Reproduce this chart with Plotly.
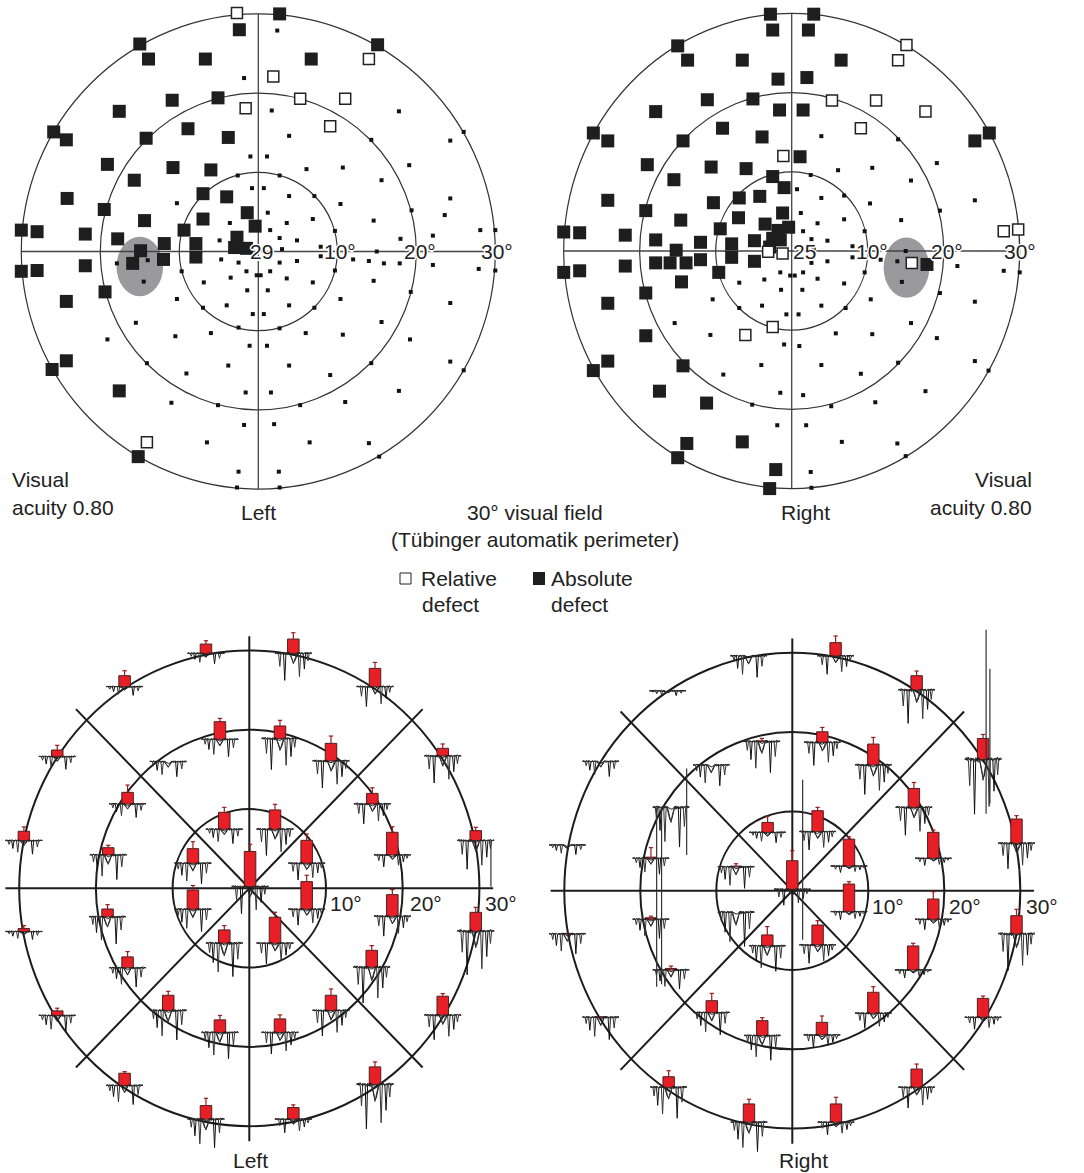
import numpy as np
import plotly.graph_objects as go

W, H = 1084, 1173
FONT = "Liberation Sans, Arial, Helvetica, sans-serif"
INK = "#222222"

# ---------------------------------------------------------------------------
# 30 degree static perimetry, test locations in degrees (x, y)
# ---------------------------------------------------------------------------
ABS_LEFT = [
    (2.7, 30.0), (-2.4, 28.0), (-15.0, 26.2), (15.1, 26.1), (-13.9, 24.3), (-6.7, 24.3),
    (6.7, 24.3), (-10.9, 19.1), (-5.1, 19.4), (-17.6, 17.7), (-25.9, 15.1), (-24.3, 14.1),
    (-8.9, 15.5), (-3.8, 14.4), (-14.2, 14.3), (-19.1, 11.0), (-10.8, 10.6), (-6.0, 10.3),
    (-15.7, 9.0), (-24.2, 6.7), (-7.0, 7.3), (-4.0, 6.9), (-19.5, 5.3), (-1.4, 4.9),
    (-7.0, 4.1), (-0.4, 3.2), (-30.0, 2.7), (-28.0, 2.5), (-21.9, 2.2), (-14.4, 3.9),
    (-9.4, 2.7), (-17.8, 1.6), (-11.9, 1.0), (-7.9, 1.0), (-2.7, 1.8), (-3.0, 0.5),
    (-1.5, 0.4), (-14.9, 0.1), (-15.9, -1.5), (-12.0, -1.0), (-7.9, -0.7), (-30.0, -2.5),
    (-28.0, -2.4), (-21.9, -1.8), (-19.4, -5.1), (-24.3, -6.3), (-24.3, -13.8),
    (-26.1, -14.9), (-17.6, -17.6), (-15.2, -25.9),
]
REL_LEFT = [
    (-2.7, 30.1), (14.0, 24.3), (1.9, 22.1), (5.3, 19.3), (11.0, 19.3), (-1.6, 18.1),
    (9.1, 15.8), (-14.1, -24.1),
]
DOT_LEFT = [
    (2.4, 27.9), (-1.8, 21.9), (1.7, 17.8), (17.8, 17.7), (26.0, 15.1), (3.9, 14.6),
    (14.3, 14.1), (24.3, 14.0), (-1.0, 12.0), (1.1, 12.0), (6.1, 10.4), (10.7, 10.6),
    (19.1, 10.9), (-2.6, 9.6), (2.7, 9.6), (15.6, 9.0), (-0.8, 8.0), (0.7, 8.0), (3.9, 7.0),
    (7.1, 7.0), (-10.3, 6.1), (10.4, 6.0), (24.3, 6.7), (19.4, 5.2), (23.6, 4.6), (1.2, 4.9),
    (6.9, 4.1), (3.6, 3.6), (-3.6, 3.6), (14.6, 3.9), (9.7, 2.6), (1.5, 2.7), (28.1, 2.7),
    (30.0, 2.7), (22.1, 2.0), (18.0, 1.6), (-4.9, 1.4), (2.7, 1.7), (4.9, 1.4), (7.9, 0.6),
    (3.0, 0.3), (15.0, 0.0), (7.9, -0.6), (12.0, -1.0), (14.0, -1.2), (15.9, -1.5),
    (17.9, -1.5), (22.1, -1.7), (27.9, -2.2), (30.0, -2.4), (2.7, -1.4), (4.9, -1.2),
    (-4.7, -1.0), (-2.5, -1.4), (-14.0, -1.1), (-17.9, -1.5), (-14.5, -3.8), (-9.7, -2.5),
    (9.7, -2.4), (-1.5, -2.5), (1.5, -2.5), (-0.2, -3.0), (0.3, -3.0), (-3.5, -3.3),
    (3.6, -3.4), (-6.9, -3.9), (6.9, -3.9), (-1.4, -4.9), (1.2, -4.9), (14.6, -3.7),
    (-10.3, -6.0), (10.4, -6.0), (19.3, -5.1), (24.3, -6.5), (-4.0, -6.8), (3.9, -6.8),
    (-7.0, -7.1), (7.1, -7.1), (-0.7, -7.9), (0.7, -7.9), (-2.5, -9.6), (2.7, -9.7),
    (-15.5, -9.0), (15.6, -8.9), (-6.0, -10.3), (6.0, -10.3), (-10.5, -10.7), (10.7, -10.5),
    (-19.1, -11.1), (19.2, -11.1), (-1.1, -11.9), (1.1, -11.9), (-14.1, -14.1), (14.3, -14.1),
    (-3.8, -14.4), (3.9, -14.4), (24.3, -13.9), (26.0, -15.0), (-9.1, -15.4), (9.1, -15.6),
    (17.8, -17.6), (-5.1, -19.4), (5.3, -19.4), (-11.0, -19.1), (11.0, -19.0), (-1.6, -17.8),
    (1.6, -17.8), (-1.8, -21.9), (2.0, -21.8), (-6.5, -24.1), (6.5, -24.1), (14.0, -24.2),
    (15.3, -25.9), (-2.5, -27.8), (2.6, -27.8), (-2.7, -29.8), (2.7, -29.8),
]

ABS_RIGHT = [
    (-2.8, 29.9), (2.9, 29.9), (-2.5, 27.9), (2.2, 27.9), (-15.0, 25.9), (-13.7, 24.1),
    (-6.5, 24.1), (6.5, 24.1), (-1.8, 21.7), (2.0, 21.9), (-11.1, 19.1), (-5.1, 19.2),
    (-1.6, 17.8), (1.5, 17.8), (-17.9, 17.6), (-26.1, 14.9), (-24.2, 13.9), (-9.1, 15.5),
    (-3.9, 14.4), (-14.3, 13.9), (26.0, 14.9), (24.1, 13.9), (1.1, 11.9), (-19.0, 10.9),
    (-10.6, 10.6), (-6.0, 10.4), (-15.5, 9.0), (-2.5, 9.4), (-1.0, 8.0), (-24.2, 6.4),
    (-10.3, 6.1), (-6.9, 6.7), (-4.2, 6.9), (-19.2, 5.1), (-1.2, 4.8), (-7.0, 4.2),
    (-14.6, 3.9), (-3.5, 3.4), (-1.8, 2.6), (-0.4, 3.0), (-9.4, 2.8), (-30.0, 2.4),
    (-27.9, 2.3), (-21.9, 2.0), (-17.9, 1.4), (-12.0, 1.1), (-7.9, 0.9), (-4.9, 1.3),
    (-2.5, 1.6), (-2.9, 0.5), (-1.5, 1.4), (-15.2, 0.1), (-17.9, -1.5), (-16.0, -1.5),
    (-13.9, -1.5), (-12.0, -1.1), (-7.9, -0.8), (-4.9, -1.3), (-30.0, -2.7), (-27.9, -2.5),
    (-21.9, -1.9), (-9.6, -2.7), (-14.5, -3.9), (-19.2, -5.3), (-24.2, -6.6), (-19.2, -10.7),
    (-24.2, -13.9), (-26.1, -15.1), (-14.3, -14.5), (-17.4, -17.7), (-11.2, -19.2),
    (-13.8, -24.3), (-6.5, -24.1), (-15.0, -26.1), (-2.1, -27.6), (-2.9, -30.0), (17.8, -1.7),
]
REL_RIGHT = [
    (15.1, 26.0), (14.0, 24.1), (5.3, 19.0), (11.1, 19.0), (17.6, 17.6), (9.1, 15.5),
    (-1.1, 12.0), (27.9, 2.5), (29.8, 2.7), (15.8, -1.5), (-3.1, -0.1), (-1.2, -0.3),
    (-2.5, -9.6), (-6.1, -10.6),
]
DOT_RIGHT = [
    (3.9, 14.5), (14.0, 14.1), (19.1, 11.1), (6.1, 10.2), (10.6, 10.5), (15.7, 8.9),
    (2.5, 9.6), (0.7, 7.8), (3.9, 6.7), (6.9, 7.0), (10.3, 6.0), (24.1, 6.4), (19.5, 5.1),
    (1.2, 4.8), (6.9, 4.0), (3.4, 3.5), (14.4, 3.9), (9.6, 2.5), (1.5, 2.5), (2.6, 1.5),
    (4.7, 1.3), (8.0, 0.6), (2.9, 0.2), (15.0, 0.0), (8.0, -0.8), (11.7, -1.1), (13.9, -1.3),
    (21.8, -1.9), (27.9, -2.5), (30.0, -2.7), (2.6, -1.5), (4.7, -1.3), (9.6, -2.7),
    (-1.5, -2.7), (1.5, -2.7), (-0.2, -3.1), (0.4, -3.1), (-3.6, -3.6), (3.4, -3.5),
    (-6.9, -4.0), (6.9, -4.1), (14.5, -3.9), (-1.4, -4.9), (1.4, -4.9), (-10.4, -6.1),
    (10.4, -6.1), (19.5, -5.3), (24.1, -6.4), (-3.9, -6.9), (3.9, -6.9), (-6.9, -7.2),
    (7.1, -7.2), (-0.7, -8.0), (0.9, -8.0), (-15.4, -9.1), (15.7, -9.1), (5.8, -10.4),
    (10.6, -10.5), (-10.7, -10.6), (19.1, -11.0), (-1.0, -11.8), (1.0, -12.0), (-4.0, -14.4),
    (3.9, -14.4), (14.0, -14.1), (24.1, -13.9), (25.9, -15.1), (-9.0, -15.6), (9.1, -15.5),
    (17.6, -17.7), (-1.5, -17.9), (1.5, -18.2), (-5.2, -19.4), (5.2, -19.6), (11.0, -19.1),
    (-1.9, -22.0), (1.9, -22.0), (6.6, -24.1), (13.9, -24.3), (15.0, -25.9), (2.5, -27.9),
    (2.6, -29.9),
]

# blind spot: centre x, centre y, half width, half height (degrees)
BLIND_LEFT = (-15.0, -1.9, 2.95, 3.75)
BLIND_RIGHT = (15.1, -2.1, 3.0, 3.8)
FOVEA_LEFT = "29"
FOVEA_RIGHT = "25"

# ---------------------------------------------------------------------------
# Multifocal ERG: (x, y, amplitude, sd, trace depth) in degrees of the field
# ---------------------------------------------------------------------------
MF_LEFT = [
    (0.1, 0.2, 4.45, 0.9, 3.4),
    (-3.26, 7.44, 2.14, 0.63, 1.8), (3.35, 7.44, 2.44, 0.71, 3.3),
    (-7.35, 3.15, 1.85, 0.88, 2.6), (7.48, 3.15, 2.9, 0.8, 2.1),
    (-7.35, -2.65, 2.44, 0.55, 2.8), (7.48, -2.65, 3.49, 0.8, 2.0),
    (-3.26, -6.93, 1.68, 0.55, 4.2), (3.35, -6.93, 3.28, 0.63, 2.6),
    (-3.83, 18.78, 2.23, 0.42, 2.2), (4.0, 18.87, 1.6, 0.71, 3.9),
    (-10.57, 15.97, 0.0, 0.0, 1.9), (10.65, 16.05, 2.23, 0.92, 3.4),
    (-15.87, 10.63, 1.47, 0.92, 1.7), (16.04, 10.63, 1.34, 0.71, 2.5),
    (-18.39, 4.2, 0.92, 0.3, 3.1), (18.65, 4.2, 2.86, 0.71, 1.5),
    (-18.48, -3.61, 1.0, 0.55, 3.4), (18.65, -3.53, 2.73, 0.63, 2.5),
    (-15.87, -10.04, 1.39, 0.67, 2.4), (15.96, -9.96, 2.14, 0.59, 4.5),
    (-10.57, -15.42, 1.93, 0.5, 3.7), (10.65, -15.42, 1.93, 0.8, 3.2),
    (-3.83, -18.19, 1.6, 0.55, 3.3), (4.0, -18.19, 1.72, 0.5, 2.7),
    (-5.65, 29.62, 1.18, 0.42, 1.3), (5.74, 29.62, 1.81, 0.8, 3.4),
    (-16.26, 25.42, 1.39, 0.63, 1.1), (16.39, 25.42, 2.31, 0.76, 2.5),
    (-25.04, 16.6, 0.84, 0.59, 1.6), (25.22, 16.68, 0.97, 0.55, 3.4),
    (-29.39, 6.01, 1.18, 0.55, 1.7), (29.52, 6.01, 1.26, 0.42, 3.6),
    (-29.39, -5.46, 0.38, 0.38, 1.0), (29.52, -5.42, 2.39, 0.63, 5.5),
    (-25.04, -16.05, 0.59, 0.34, 2.0), (25.22, -16.0, 2.39, 0.34, 3.1),
    (-16.26, -24.87, 1.55, 0.2, 2.4), (16.39, -24.75, 2.23, 0.63, 5.6),
    (-5.65, -29.12, 1.72, 0.92, 3.6), (5.74, -29.12, 1.47, 0.34, 1.7),
]
MF_RIGHT = [
    (0.0, 0.17, 3.61, 1.26, 2.0),
    (-3.25, 7.35, 1.26, 0.8, 1.3), (3.33, 7.44, 2.65, 0.42, 2.3),
    (-7.4, 3.0, 0.1, 0.3, 2.7), (7.46, 3.1, 3.4, 0.3, 0.8),
    (-7.4, -2.73, 0.0, 0.0, 4.3), (7.46, -2.65, 3.49, 0.3, 1.0),
    (-3.29, -6.97, 1.39, 1.05, 3.2), (3.33, -6.85, 2.52, 0.55, 2.3),
    (-4.0, 18.8, 0.1, 0.3, 3.9), (3.95, 18.7, 1.34, 0.55, 2.9),
    (-10.66, 15.84, 0.0, 0.0, 2.6), (10.66, 15.84, 2.65, 0.84, 3.7),
    (-15.96, 10.5, 0.0, 0.0, 5.0), (16.0, 10.5, 2.39, 0.76, 3.5),
    (-18.6, 4.08, 0.15, 1.2, 2.0), (18.55, 4.08, 3.28, 0.3, 0.9),
    (-18.6, -3.61, 0.2, 0.2, 2.4), (18.55, -3.61, 2.56, 0.92, 1.3),
    (-15.96, -10.0, 0.2, 0.3, 2.4), (15.9, -10.0, 3.03, 0.34, 1.0),
    (-10.6, -15.38, 1.51, 0.92, 2.8), (10.66, -15.46, 2.65, 0.71, 1.9),
    (-3.95, -18.28, 1.89, 0.38, 3.1), (3.9, -18.2, 1.6, 0.8, 1.6),
    (-5.75, 29.6, 0.0, 0.0, 2.7), (5.7, 29.6, 1.68, 0.84, 2.3),
    (-16.4, 25.2, 0.0, 0.0, 0.6), (16.36, 25.3, 1.81, 0.59, 4.2),
    (-25.2, 16.3, 0.0, 0.0, 1.9), (25.1, 16.55, 2.65, 0.5, 6.9),
    (-29.6, 5.76, 0.0, 0.0, 1.2), (29.5, 5.97, 3.07, 0.42, 3.2),
    (-29.6, -5.46, 0.08, 0.0, 2.5), (29.5, -5.46, 2.31, 0.8, 4.6),
    (-25.2, -15.97, 0.08, 0.0, 2.8), (25.1, -15.97, 2.39, 0.3, 1.5),
    (-16.27, -24.8, 1.34, 0.76, 3.9), (16.36, -24.8, 2.31, 0.63, 2.6),
    (-5.7, -29.2, 2.31, 0.59, 3.7), (5.75, -29.2, 2.31, 0.84, 1.6),
]
# isolated artefact spikes: x, top, bottom
SPIKES_LEFT = [(31.5, 6.0, 0.2)]
SPIKES_RIGHT = [
    (25.5, 32.9, 9.7), (26.0, 28.0, 11.0), (1.36, 14.0, -6.2),
    (-17.85, 10.5, -12.1), (-17.2, 10.5, -11.8), (-13.9, 15.4, 4.5),
]

# normalised response templates (one sample per step across the trace window)
WAVE_A = [0.00, 0.03, -0.02, 0.04, 0.00, -0.03, 0.02, 0.00, -1.00, 0.02, -0.03,
          0.04, 0.00, -0.12, -0.26, -0.34, -0.30, -0.16, -0.04, 0.03, 0.00, -0.02,
          0.03, 0.00, -0.58, 0.02, 0.00, 0.04, -0.02, 0.03, 0.00]
WAVE_B = [0.02, 0.00, 0.04, -0.02, -0.48, 0.03, 0.00, 0.02, -0.04, 0.03, 0.00,
          -0.05, 0.02, -0.08, -0.20, -0.38, -0.26, -0.10, 0.02, 0.00, -0.86, 0.03,
          0.00, -0.03, 0.02, 0.00, 0.03, -0.28, 0.02, 0.00, 0.03]
WAVE_C = [0.00, 0.06, -0.04, 0.08, -0.02, 0.05, -0.06, 0.07, 0.00, -0.05, 0.06,
          -0.03, 0.05, -0.10, -0.18, -0.22, -0.14, -0.06, 0.05, -0.04, 0.07, -0.02,
          0.05, -0.06, 0.04, 0.08, -0.03, 0.06, -0.05, 0.04, 0.00]
TRACE_HALF = 2.4
BAR_WIDTH = 1.5

# ---------------------------------------------------------------------------
# panel geometry: centre pixel, pixels per degree, pixel box
# ---------------------------------------------------------------------------
PANELS = [
    dict(n=1, cx=258.3, cy=251.5, sx=7.9, sy=7.92, box=(0, 535, 0, 500)),
    dict(n=2, cx=791.7, cy=251.0, sx=7.6, sy=7.92, box=(540, 1084, 0, 500)),
    dict(n=3, cx=249.3, cy=888.3, sx=7.67, sy=7.93, box=(0, 540, 620, 1173)),
    dict(n=4, cx=792.3, cy=890.7, sx=7.6, sy=7.93, box=(540, 1084, 620, 1173)),
]

fig = go.Figure()
layout = dict(width=W, height=H, margin=dict(l=0, r=0, t=0, b=0),
              paper_bgcolor="white", plot_bgcolor="white", showlegend=False,
              barmode="overlay", font=dict(family=FONT, color=INK))
for p in PANELS:
    x0, x1, y0, y1 = p["box"]
    sfx = "" if p["n"] == 1 else str(p["n"])
    layout["xaxis" + sfx] = dict(domain=[x0 / W, x1 / W],
                                 range=[(x0 - p["cx"]) / p["sx"], (x1 - p["cx"]) / p["sx"]],
                                 visible=False, fixedrange=True)
    layout["yaxis" + sfx] = dict(domain=[1 - y1 / H, 1 - y0 / H],
                                 range=[(p["cy"] - y1) / p["sy"], (p["cy"] - y0) / p["sy"]],
                                 visible=False, fixedrange=True)
fig.update_layout(**layout)

shapes, annotations = [], []


def refs(n):
    return ("x", "y") if n == 1 else (f"x{n}", f"y{n}")


def circle(n, r, width, color):
    xr, yr = refs(n)
    return dict(type="circle", xref=xr, yref=yr, x0=-r, x1=r, y0=-r, y1=r,
                line=dict(color=color, width=width), layer="below")


def seg(n, xa, ya, xb, yb, width, color):
    xr, yr = refs(n)
    return dict(type="line", xref=xr, yref=yr, x0=xa, y0=ya, x1=xb, y1=yb,
                line=dict(color=color, width=width), layer="below")


HALO = ("1.5px 0 0 #fff, -1.5px 0 0 #fff, 0 1.5px 0 #fff, 0 -1.5px 0 #fff, "
        "1px 1px 0 #fff, -1px -1px 0 #fff, 1px -1px 0 #fff, -1px 1px 0 #fff")


# ---------------- perimetry panels ----------------
def perimetry(n, absolute, relative, dots, blind, fovea, fovea_x, deg_x):
    xr, yr = refs(n)
    bx, by, bw, bh = blind
    shapes.append(dict(type="circle", xref=xr, yref=yr, x0=bx - bw, x1=bx + bw,
                       y0=by - bh, y1=by + bh, fillcolor="#9a9a9c",
                       line=dict(width=0), layer="below"))
    for r in (10, 20, 30):
        shapes.append(circle(n, r, 1.2, "#333333"))
    shapes.append(seg(n, -30, 0, 30, 0, 1.3, "#444444"))
    shapes.append(seg(n, 0, -30, 0, 30, 1.3, "#444444"))
    fig.add_trace(go.Scatter(x=[d[0] for d in dots], y=[d[1] for d in dots], mode="markers",
                             marker=dict(symbol="square", size=4, color="#111111"),
                             xaxis=xr, yaxis=yr, hoverinfo="skip"))
    fig.add_trace(go.Scatter(x=[d[0] for d in absolute], y=[d[1] for d in absolute],
                             mode="markers",
                             marker=dict(symbol="square", size=13, color="#1e1e1e",
                                         line=dict(width=0)),
                             xaxis=xr, yaxis=yr, hoverinfo="skip"))
    fig.add_trace(go.Scatter(x=[d[0] for d in relative], y=[d[1] for d in relative],
                             mode="markers",
                             marker=dict(symbol="square", size=11, color="white",
                                         line=dict(width=1.5, color="#222222")),
                             xaxis=xr, yaxis=yr, hoverinfo="skip"))
    annotations.append(dict(text=fovea, x=fovea_x, y=0, xref=xr, yref=yr, showarrow=False,
                            font=dict(size=21, family=FONT, color=INK, shadow=HALO)))
    for val, xpos in zip(("10°", "20°", "30°"), deg_x):
        annotations.append(dict(text=val, x=xpos, y=0, xref=xr, yref=yr, showarrow=False,
                                font=dict(size=21, family=FONT, color=INK, shadow=HALO)))


perimetry(1, ABS_LEFT, REL_LEFT, DOT_LEFT, BLIND_LEFT, FOVEA_LEFT, 0.35, (10.4, 20.5, 30.2))
perimetry(2, ABS_RIGHT, REL_RIGHT, DOT_RIGHT, BLIND_RIGHT, FOVEA_RIGHT, 1.7, (10.5, 20.4, 30.1))


# ---------------- multifocal ERG panels ----------------
def mferg(n, locs, spikes):
    xr, yr = refs(n)
    for r in (10, 20, 30):
        shapes.append(circle(n, r, 2, "#1c1c1c"))
    shapes.append(seg(n, -31.8, 0, 31.8, 0, 2, "#1c1c1c"))
    shapes.append(seg(n, 0, -31.9, 0, 31.8, 2, "#1c1c1c"))
    shapes.append(seg(n, -22.6, -22.6, 22.6, 22.6, 2, "#1c1c1c"))
    shapes.append(seg(n, -22.6, 22.6, 22.6, -22.6, 2, "#1c1c1c"))

    # bars
    bars = [l for l in locs if l[2] > 0]
    fig.add_trace(go.Bar(x=[b[0] for b in bars], y=[b[2] for b in bars],
                         base=[b[1] for b in bars], width=BAR_WIDTH,
                         marker=dict(color="#e81f27", line=dict(color="#4a2020", width=1)),
                         xaxis=xr, yaxis=yr, hoverinfo="skip"))

    # response traces (three overlaid sweeps per location)
    for wave, col, gain in ((WAVE_C, "#1a1a1a", 1.0), (WAVE_A, "#111111", 1.0),
                            (WAVE_B, "#333333", 1.0)):
        xs, ys = [], []
        for i, (x, y, amp, sd, depth) in enumerate(locs):
            w = wave if i % 2 == 0 else wave[::-1]
            scale = depth * gain if wave is not WAVE_C else 1.0
            xs += list(x + np.linspace(-TRACE_HALF, TRACE_HALF, len(w))) + [None]
            ys += list(y + scale * np.array(w)) + [None]
        fig.add_trace(go.Scatter(x=xs, y=ys, mode="lines",
                                 line=dict(color=col, width=1),
                                 xaxis=xr, yaxis=yr, hoverinfo="skip"))

    # standard deviation whiskers
    wx, wy = [], []
    for (x, y, amp, sd, depth) in bars:
        if sd <= 0:
            continue
        top = y + amp + sd
        wx += [x, x, None, x - 0.28, x + 0.28, None]
        wy += [y + amp, top, None, top, top, None]
    fig.add_trace(go.Scatter(x=wx, y=wy, mode="lines", line=dict(color="#9a1b1b", width=1.2),
                             xaxis=xr, yaxis=yr, hoverinfo="skip"))

    # isolated artefacts
    sx_, sy_ = [], []
    for (x, a, b) in spikes:
        sx_ += [x, x, None]
        sy_ += [a, b, None]
    fig.add_trace(go.Scatter(x=sx_, y=sy_, mode="lines", line=dict(color="#333333", width=1.2),
                             xaxis=xr, yaxis=yr, hoverinfo="skip"))


mferg(3, MF_LEFT, SPIKES_LEFT)
mferg(4, MF_RIGHT, SPIKES_RIGHT)


# ---------------- text ----------------
def label(text, x, y, size=21, anchor="center"):
    annotations.append(dict(text=text, x=x / W, y=1 - y / H, xref="paper", yref="paper",
                            showarrow=False, xanchor=anchor, yanchor="middle",
                            font=dict(size=size, family=FONT, color=INK)))


label("Visual", 10, 480, anchor="left")
label("acuity 0.80", 10, 507, anchor="left")
label("Visual", 1034, 480, anchor="right")
label("acuity 0.80", 1034, 507, anchor="right")
label("Left", 258, 512)
label("Right", 805, 512)
label("30° visual field", 535, 512)
label("(Tübinger automatik perimeter)", 535, 540)
label("Relative", 419, 578, anchor="left")
label("defect", 450, 604)
label("Absolute", 549, 578, anchor="left")
label("defect", 579, 604)
label("Left", 250, 1160)
label("Right", 803, 1160)
for txt, x in (("10°", 346), ("20°", 426), ("30°", 501)):
    label(txt, x, 903, size=21)
for txt, x in (("10°", 888), ("20°", 965), ("30°", 1042)):
    label(txt, x, 907, size=21)

# legend keys
shapes.append(dict(type="rect", xref="paper", yref="paper", x0=400 / W, x1=411 / W,
                   y0=1 - 584 / H, y1=1 - 573 / H, fillcolor="white",
                   line=dict(color="#222222", width=1)))
shapes.append(dict(type="rect", xref="paper", yref="paper", x0=533 / W, x1=545 / W,
                   y0=1 - 585 / H, y1=1 - 572 / H, fillcolor="#1e1e1e",
                   line=dict(width=0)))

fig.update_layout(shapes=shapes, annotations=annotations)
fig.write_html("out.html")
